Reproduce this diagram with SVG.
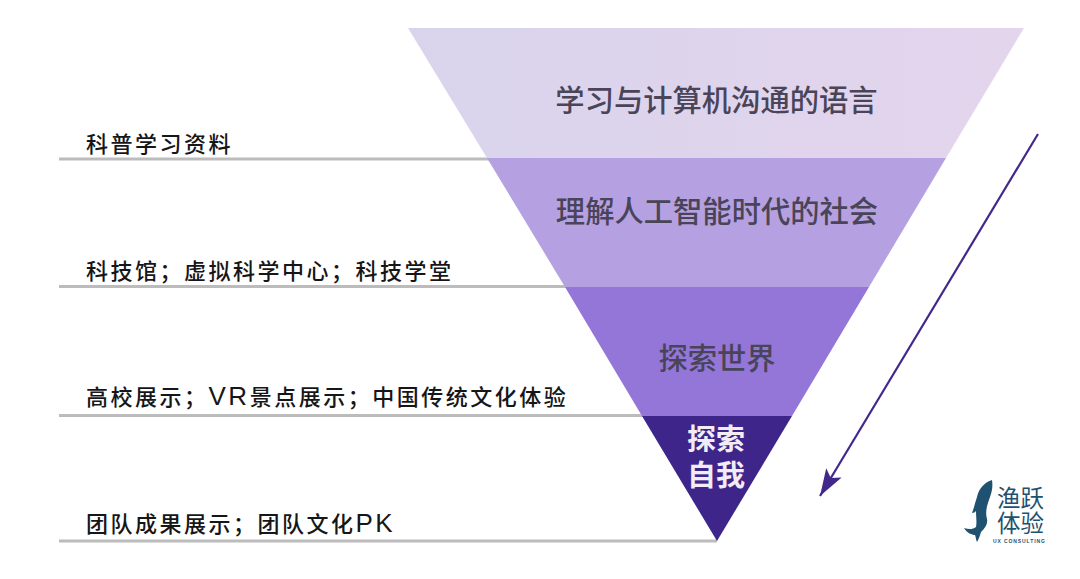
<svg xmlns="http://www.w3.org/2000/svg" width="1080" height="579" viewBox="0 0 1080 579">
<style>
text{font-family:"Liberation Sans","Noto Sans CJK SC",sans-serif}
.lab{font-size:22px;fill:#161618;font-weight:500;letter-spacing:2.500px;font-family:"Noto Sans CJK SC",sans-serif}
.lat{font-size:26px;font-weight:400;font-family:"Liberation Sans",sans-serif}
.in{font-size:29.300px;fill:#4a4458;text-anchor:middle;font-weight:500;font-family:"Noto Sans CJK SC",sans-serif}
.in4{font-size:29px;font-weight:700;fill:#f1ecf6;text-anchor:middle}
.rule{stroke:#bcbcbc;stroke-width:3;fill:none}
.logo{fill:#1f5270;font-size:23.500px}
</style>
<defs>
<linearGradient id="g1" x1="0" x2="1" y1="0" y2="0"><stop offset="0" stop-color="#d9d4ec"/><stop offset="1" stop-color="#e3d5ec"/></linearGradient>
<marker id="ah" markerUnits="userSpaceOnUse" markerWidth="28" markerHeight="20" refX="27" refY="10" orient="auto"><path d="M27 10L0 1L6 10L0 19Z" fill="#43288c"/></marker>
</defs>
<rect width="1080" height="579" fill="#fff"/>
<g id="connectors">
<path class="rule" d="M59 159H490"/>
<path class="rule" d="M59 286.500H566"/>
<path class="rule" d="M59 415.500H644"/>
<path class="rule" d="M59 541H717"/>
<path d="M1038 134L820 496" stroke="#43288c" stroke-width="2.200" fill="none" marker-end="url(#ah)"/>
</g>
<g id="level-1"><path d="M408 28H1024L946 158H487Z" fill="url(#g1)"/><text class="in" x="716.500" y="111">学习与计算机沟通的语言</text></g>
<g id="level-2"><path d="M487 158H946L869 287H565Z" fill="#b5a1e2"/><text class="in" x="717" y="222">理解人工智能时代的社会</text></g>
<g id="level-3"><path d="M565 287H869L792 416H642Z" fill="#9376d8"/><text class="in" x="717" y="369">探索世界</text></g>
<g id="level-4"><path d="M642 416H792L717 541Z" fill="#3d2589"/><text class="in4" x="716" y="450">探索</text><text class="in4" x="716" y="486">自我</text></g>
<g id="label-1"><text class="lab" x="86" y="152">科普学习资料</text></g>
<g id="label-2"><text class="lab" x="86" y="279">科技馆；虚拟科学中心；科技学堂</text></g>
<g id="label-3"><text class="lab" x="86" y="405">高校展示；<tspan class="lat">VR</tspan>景点展示；中国传统文化体验</text></g>
<g id="label-4"><text class="lab" x="86" y="532">团队成果展示；团队文化<tspan class="lat">PK</tspan></text></g>
<g id="logo">
<path d="M992 480C985 482 979 488 977 497C975 503 974 508 972 513C974 513 975 512 976 511C976 517 977 522 976 527C972 530 968 529 964 528C967 533 972 535 975 535C976 538 976 540 977 542C979 539 980 535 981 532C985 528 988 524 987 519C985 512 987 505 990 497C992 492 993 486 992 480Z" fill="#1f5270"/>
<text class="logo" x="997" y="507">渔跃</text>
<text class="logo" x="997" y="532">体验</text>
<text x="993" y="542.500" font-size="5" font-weight="700" fill="#1f5270" letter-spacing=".9">UX CONSULTING</text>
</g>
</svg>
